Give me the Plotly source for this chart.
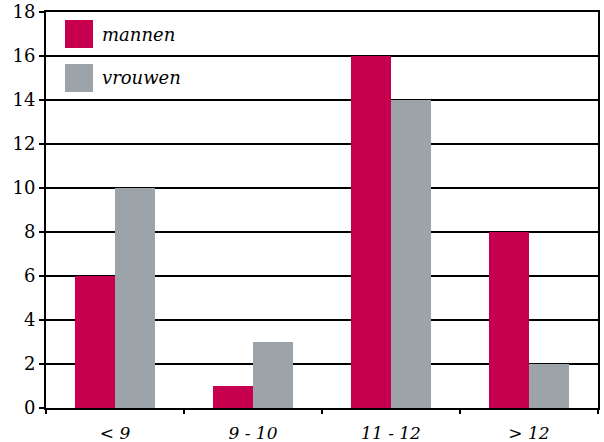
import plotly.graph_objects as go

categories = ["< 9", "9 - 10", "11 - 12", "> 12"]
mannen = [6, 1, 16, 8]
vrouwen = [10, 3, 14, 2]
y_ticks = [0, 2, 4, 6, 8, 10, 12, 14, 16, 18]

RED = "#C6004F"
GRAY = "#9CA3A9"
FONT = "DejaVu Serif, Liberation Serif, serif"

fig = go.Figure()
fig.add_trace(go.Bar(x=categories, y=mannen, name="mannen", marker_color=RED,
                     marker_line_width=0))
fig.add_trace(go.Bar(x=categories, y=vrouwen, name="vrouwen", marker_color=GRAY,
                     marker_line_width=0))

fig.update_layout(
    width=604, height=442,
    margin=dict(l=46, r=6, t=12, b=34),
    paper_bgcolor="white", plot_bgcolor="white",
    barmode="group", bargap=0.42, bargroupgap=0,
    showlegend=False,
    font=dict(family=FONT, size=17, color="black"),
)
fig.update_xaxes(
    type="category", showgrid=False, showline=True, linecolor="black", linewidth=2,
    mirror=True, ticks="outside", tickson="boundaries", ticklen=4, tickwidth=2,
    tickcolor="black", automargin=False, ticklabelstandoff=9,
    tickfont=dict(family=FONT, size=17, style="italic"),
)
fig.update_yaxes(
    range=[0, 18], tickvals=y_ticks, showgrid=True, gridcolor="black", gridwidth=2,
    showline=True, linecolor="black", linewidth=2, mirror=True,
    ticks="outside", ticklen=5, tickwidth=2, tickcolor="black", automargin=False,
    zeroline=False, tickfont=dict(family=FONT, size=18),
)

for i, (label, col) in enumerate([("mannen", RED), ("vrouwen", GRAY)]):
    y0 = 12 + 8 + i * 44
    fig.add_shape(type="rect", xref="paper", yref="paper",
                  x0=(65 - 46) / 552, x1=(93 - 46) / 552,
                  y0=1 - (y0 + 28 - 12) / 396, y1=1 - (y0 - 12) / 396,
                  fillcolor=col, line_width=0)
    fig.add_annotation(xref="paper", yref="paper", x=(100 - 46) / 552,
                       y=1 - (y0 + 14 - 12) / 396, text=label, showarrow=False,
                       xanchor="left", yanchor="middle",
                       font=dict(family=FONT, size=18, style="italic"))

fig.write_html("out.html", config={"displayModeBar": False},
               post_script="document.body.style.margin='0px';")
